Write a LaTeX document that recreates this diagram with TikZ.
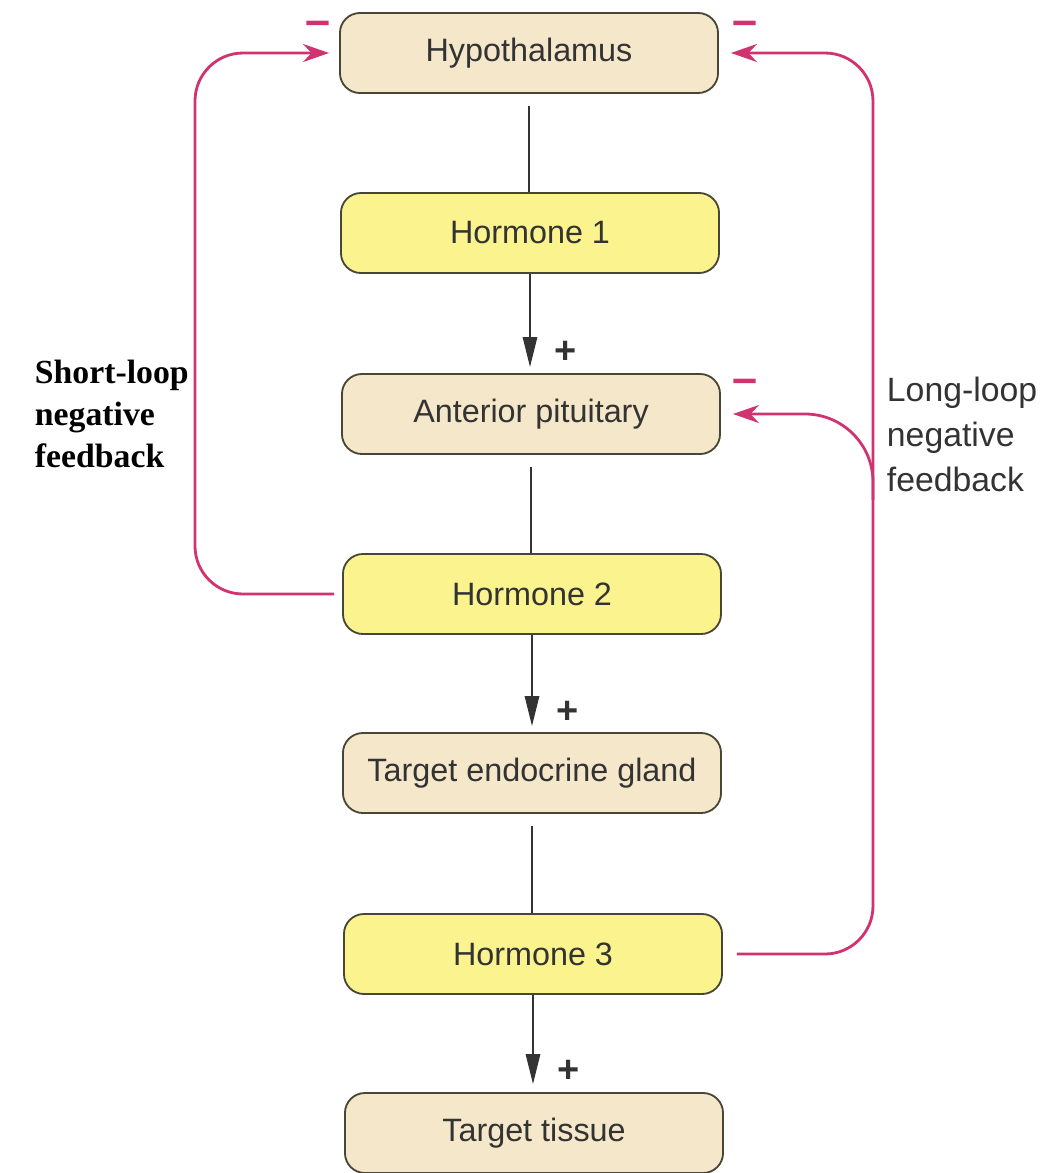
\documentclass[tikz,border=0pt]{standalone}
\usepackage{fontspec}
\setmainfont{Liberation Sans}
\newfontfamily\serifbf{Liberation Serif}
\usetikzlibrary{arrows.meta}
\definecolor{boxtan}{HTML}{F5E7CA}
\definecolor{boxyellow}{HTML}{FAF38E}
\definecolor{fbpink}{HTML}{D0336F}
\definecolor{boxedge}{HTML}{4A4636}
\definecolor{inkgray}{HTML}{333333}
\begin{document}
\begin{tikzpicture}[x=0.025cm,y=-0.025cm,
  organ/.style={draw=boxedge, line width=1.3pt, fill=boxtan, rounded corners=0.5cm,
    minimum width=9.45cm, minimum height=2cm, font=\fontsize{23}{27}\selectfont, text=inkgray},
  hormone/.style={organ, fill=boxyellow},
  link/.style={draw=inkgray, line width=1.3pt},
  stim/.style={link, -{Triangle[length=0.75cm,width=0.36cm]}},
  fb/.style={draw=fbpink, line width=2pt, rounded corners=1.2cm, -{Stealth[length=0.65cm,width=0.45cm]}},
  sign/.style={font=\bfseries\fontsize{27}{27}\selectfont, text=inkgray, inner sep=0pt},
  minus/.style={font=\bfseries\fontsize{32}{32}\selectfont, text=fbpink, inner sep=0pt}]
  \useasboundingbox (0,0) rectangle (1062,1173);

  \node[organ] (hyp) at (529,53) {Hypothalamus};
  \node[hormone] (h1) at (530,233) {Hormone 1};
  \node[organ] (ap) at (531,414) {Anterior pituitary};
  \node[hormone] (h2) at (532,594) {Hormone 2};
  \node[organ] (teg) at (532,773) {Target endocrine gland};
  \node[hormone] (h3) at (533,954) {Hormone 3};
  \node[organ] (tt) at (534,1133) {Target tissue};

  \draw[link, shorten <=0.3cm] (hyp.south) -- (hyp.south |- h1.north);
  \draw[stim, shorten >=0.15cm] (h1.south) -- (h1.south |- ap.north);
  \draw[link, shorten <=0.3cm] (ap.south) -- (ap.south |- h2.north);
  \draw[stim, shorten >=0.15cm] (h2.south) -- (h2.south |- teg.north);
  \draw[link, shorten <=0.3cm] (teg.south) -- (teg.south |- h3.north);
  \draw[stim, shorten >=0.2cm] (h3.south) -- (h3.south |- tt.north);

  \node[sign] (p1) at (566,352) {+};
  \node[sign] (p2) at (568,712) {+};
  \node[sign] (p3) at (569,1071) {+};

  \coordinate (sl) at (195,300);
  \coordinate (ll) at (873,500);
  \draw[fb, shorten <=0.2cm, shorten >=0.25cm] (h2.west) -| (sl) |- (hyp.west);
  \draw[fb, shorten <=0.35cm, shorten >=0.3cm] (h3.east) -| (ll) |- (hyp.east);
  \draw[fb, rounded corners=1.7cm, shorten >=0.3cm] (ll) |- (ap.east);

  \node[minus] (m1) at (318,28) {\textendash};
  \node[minus] (m2) at (745,28) {\textendash};
  \node[minus] (m3) at (745,386) {\textendash};

  \node[anchor=north west, align=left, font=\serifbf\bfseries\fontsize{24}{30}\selectfont] (short) at (30,355) {Short-loop\\negative\\feedback};
  \node[anchor=north west, align=left, font=\fontsize{24}{32}\selectfont, text=inkgray] (long) at (882,372) {Long-loop\\negative\\feedback};
\end{tikzpicture}
\end{document}
